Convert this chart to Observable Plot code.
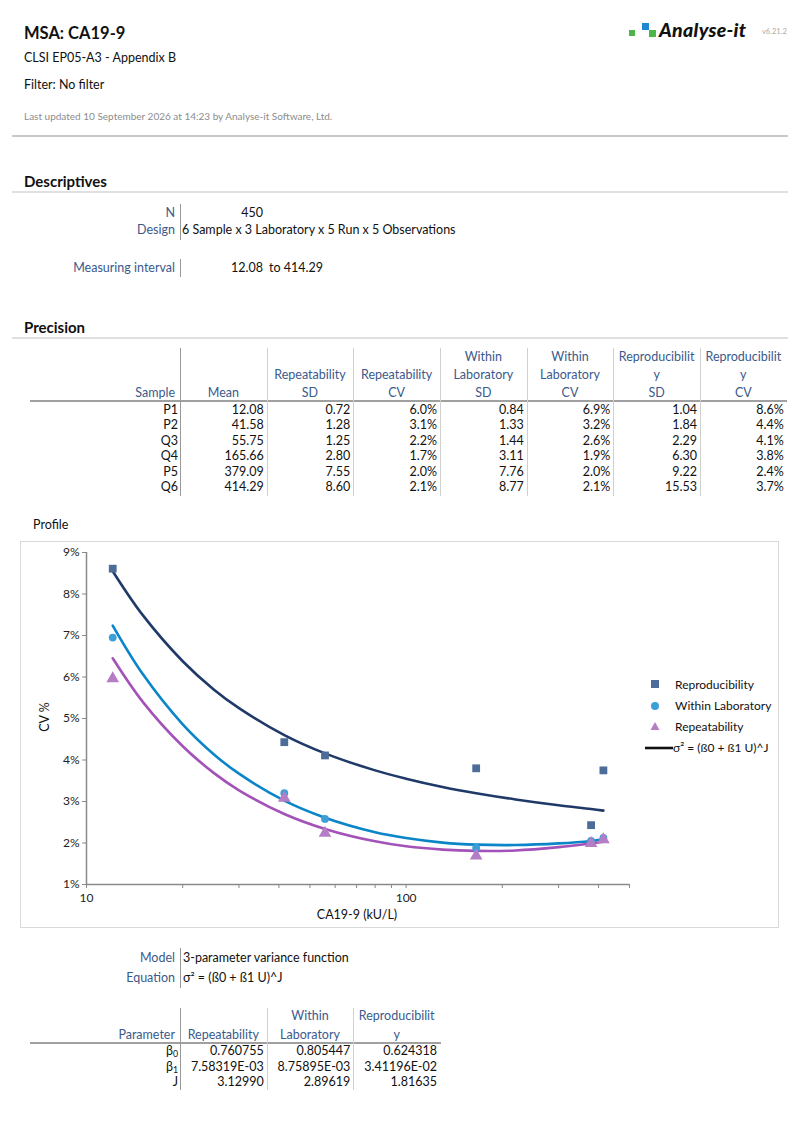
<!DOCTYPE html>
<html>
<head>
<meta charset="utf-8">
<script src="https://cdn.jsdelivr.net/npm/d3@7"></script>
<script src="https://cdn.jsdelivr.net/npm/@observablehq/plot@0.6"></script>
<style>
  html, body { margin: 0; padding: 0; background: #fff; }
  body { width: 800px; height: 1132px; position: relative; font-family: Lato, "Open Sans", sans-serif; color: #111; overflow: hidden; }
  .t { position: absolute; white-space: nowrap; height: 16px; line-height: 16px; }
  .hl { position: absolute; height: 0; }
  .vl { position: absolute; width: 0; border-left: 1px solid #bfbfbf; }
  sub { font-size: 0.7em; vertical-align: -0.25em; line-height: 0; }
  #chart { position: absolute; left: 20px; top: 541px; width: 757px; height: 385px; border: 1px solid #d9d9d9; }
  #chart svg { position: absolute; left: 0; top: 0; }
</style>
</head>
<body>
<div id="chart"></div>
<script>
// ---------------- data ----------------
const samples = ["P1", "P2", "Q3", "Q4", "P5", "Q6"];
const means = [12.08, 41.58, 55.75, 165.66, 379.09, 414.29];
const repeatSD = [0.72, 1.28, 1.25, 2.80, 7.55, 8.60];
const repeatCV = [6.0, 3.1, 2.2, 1.7, 2.0, 2.1];
const withinSD = [0.84, 1.33, 1.44, 3.11, 7.76, 8.77];
const withinCV = [6.9, 3.2, 2.6, 1.9, 2.0, 2.1];
const reproSD = [1.04, 1.84, 2.29, 6.30, 9.22, 15.53];
const reproCV = [8.6, 4.4, 4.1, 3.8, 2.4, 3.7];

// CV points as plotted (%)
const reproPts = [8.61, 4.43, 4.11, 3.80, 2.43, 3.75];
const withinPts = [6.95, 3.20, 2.58, 1.88, 2.05, 2.12];
const repeatPts = [5.96, 3.08, 2.24, 1.69, 1.99, 2.08];

// fitted profile curves (%)
const curveX = [12.08, 15, 20, 25, 30, 41.58, 55.75, 80, 100, 130, 165.66, 220, 300, 379.09, 414.29];
const reproCurve = [8.55, 7.49, 6.38, 5.70, 5.25, 4.60, 4.16, 3.75, 3.55, 3.35, 3.20, 3.05, 2.91, 2.82, 2.78];
const withinCurve = [7.24, 6.07, 4.86, 4.14, 3.67, 3.02, 2.61, 2.26, 2.12, 2.01, 1.96, 1.95, 1.99, 2.05, 2.09];
const repeatCurve = [6.45, 5.40, 4.33, 3.69, 3.27, 2.70, 2.34, 2.04, 1.92, 1.84, 1.81, 1.82, 1.90, 1.99, 2.03];

const xTicks = [10, 20, 30, 40, 50, 60, 70, 80, 90, 100, 200, 300, 400, 500];
const xTickLabels = [10, 100];
const yTicks = [1, 2, 3, 4, 5, 6, 7, 8, 9];

const paramNames = ["β<sub>0</sub>", "β<sub>1</sub>", "J"];
const paramRepeat = ["0.760755", "7.58319E-03", "3.12990"];
const paramWithin = ["0.805447", "8.75895E-03", "2.89619"];
const paramRepro = ["0.624318", "3.41196E-02", "1.81635"];

// ---------------- helpers ----------------
const BLUE = "#3a5a8c";
function txt(x, y, html, o = {}) {
  const d = document.createElement("div");
  d.className = "t";
  d.innerHTML = html;
  const size = o.size || 12.5;
  d.style.fontSize = size + "px";
  d.style.top = (y - 8) + "px";
  if (o.weight) d.style.fontWeight = o.weight;
  if (o.style) d.style.fontStyle = o.style;
  d.style.color = o.color || "#111";
  if (o.align === "right") { d.style.right = (800 - x) + "px"; d.style.textAlign = "right"; }
  else if (o.align === "center") { d.style.left = (x - 100) + "px"; d.style.width = "200px"; d.style.textAlign = "center"; }
  else d.style.left = x + "px";
  document.body.appendChild(d);
  return d;
}
function hline(x1, x2, y, color, w) {
  const d = document.createElement("div");
  d.className = "hl";
  d.style.left = x1 + "px"; d.style.width = (x2 - x1) + "px";
  d.style.top = y + "px"; d.style.borderTop = (w || 1) + "px solid " + color;
  document.body.appendChild(d);
}
function vline(x, y1, y2, color) {
  const d = document.createElement("div");
  d.className = "vl";
  d.style.left = x + "px"; d.style.top = y1 + "px"; d.style.height = (y2 - y1) + "px";
  if (color) d.style.borderLeftColor = color;
  document.body.appendChild(d);
}

// ---------------- header ----------------
txt(24, 33, "MSA: CA19-9", {size: 16.5, weight: 700});
txt(24, 58, "CLSI EP05-A3 - Appendix B", {size: 12.5});
txt(24, 85, "Filter: No filter", {size: 12.5});
txt(24, 116, "Last updated 10 September 2026 at 14:23 by Analyse-it Software, Ltd.", {size: 10, color: "#8c8c8c"});
hline(12, 788, 135, "#c8c8c8", 2);

// logo
const logo = document.createElement("div");
logo.style.cssText = "position:absolute;left:628px;top:22px;width:170px;height:24px;";
logo.innerHTML = '<div style="position:absolute;left:1px;top:8px;width:6px;height:6px;background:#4cb648"></div>' +
  '<div style="position:absolute;left:14px;top:1px;width:7px;height:7px;background:#1e88d0"></div>' +
  '<div style="position:absolute;left:21px;top:8px;width:7px;height:7px;background:#4cb648"></div>' +
  '<div style="position:absolute;left:31px;top:-4px;font-size:19.5px;font-weight:900;font-style:italic;color:#111;letter-spacing:0.3px;white-space:nowrap">Analyse-it</div>' +
  '<div style="position:absolute;left:134px;top:5px;font-size:7.5px;color:#aaa;white-space:nowrap">v6.21.2</div>';
document.body.appendChild(logo);

// ---------------- descriptives ----------------
txt(24, 181, "Descriptives", {size: 15, weight: 700});
hline(12, 788, 191, "#e0e0e0", 2);
txt(175, 213, "N", {align: "right", color: BLUE});
txt(263, 213, "450", {align: "right"});
txt(175, 230, "Design", {align: "right", color: BLUE});
txt(182, 230, "6 Sample x 3 Laboratory x 5 Run x 5 Observations");
vline(180, 204, 240, "#999");
txt(175, 268, "Measuring interval", {align: "right", color: BLUE});
txt(263, 268, "12.08", {align: "right"});
txt(269, 268, "to 414.29");
vline(180, 259, 277, "#999");

// ---------------- precision table ----------------
txt(24, 327, "Precision", {size: 15, weight: 700});
hline(12, 788, 337, "#e0e0e0", 2);
const colB = [30, 180, 266.7, 353.3, 440, 526.7, 613.3, 700, 786.7];
const heads = [
  ["", "", "Sample"], ["", "", "Mean"], ["", "Repeatability", "SD"], ["", "Repeatability", "CV"],
  ["Within", "Laboratory", "SD"], ["Within", "Laboratory", "CV"], ["Reproducibilit", "y", "SD"], ["Reproducibilit", "y", "CV"]
];
const headY = [357, 375, 393];
heads.forEach((h, c) => {
  h.forEach((s, r) => {
    if (!s) return;
    if (c === 0) txt(colB[1] - 5, headY[r], s, {align: "right", color: BLUE});
    else txt((colB[c] + colB[c + 1]) / 2, headY[r], s, {align: "center", color: BLUE});
  });
});
hline(30, 787, 400, "#a0a0a0", 2);
for (let c = 1; c < 8; c++) vline(colB[c], 348, 496, c === 1 ? "#999" : "#d0d0d0");
const rowY = [410, 425.4, 440.8, 456.2, 471.6, 487];
const cols = [
  means.map(v => v.toFixed(2)), repeatSD.map(v => v.toFixed(2)), repeatCV.map(v => v.toFixed(1) + "%"),
  withinSD.map(v => v.toFixed(2)), withinCV.map(v => v.toFixed(1) + "%"),
  reproSD.map(v => v.toFixed(2)), reproCV.map(v => v.toFixed(1) + "%")
];
samples.forEach((s, i) => {
  txt(colB[1] - 2, rowY[i], s, {align: "right"});
  cols.forEach((col, c) => txt(colB[c + 2] - 3, rowY[i], col[i], {align: "right"}));
});

// ---------------- profile chart ----------------
txt(33, 525, "Profile", {size: 12.5});

const C_REPRO_PT = "#4d6d99", C_REPRO_LN = "#1f3a68";
const C_WITHIN_PT = "#3d9fd8", C_WITHIN_LN = "#0a85c8";
const C_REPEAT_PT = "#b57dc6", C_REPEAT_LN = "#a352b8";

const curve = (ys) => curveX.map((x, i) => ({x, y: ys[i]}));
const pts = (ys) => means.map((x, i) => ({x, y: ys[i]}));

const chart = Plot.plot({
  width: 757, height: 385,
  marginLeft: 65, marginRight: 149, marginTop: 10, marginBottom: 43,
  x: {type: "log", domain: [10, 500]},
  y: {domain: [1, 9]},
  style: {fontFamily: "Lato, sans-serif", fontSize: "12px", color: "#333", background: "transparent", overflow: "visible"},
  marks: [
    Plot.axisX({ticks: xTicks, tickFormat: d => xTickLabels.includes(d) ? String(d) : "", tickSize: 4, tickPadding: 5, label: null, stroke: "#8a8a8a", fill: "#222"}),
    Plot.axisY({ticks: yTicks, tickFormat: d => d + "%", tickSize: 4, tickPadding: 3, label: null, stroke: "#8a8a8a", fill: "#222"}),
    Plot.ruleY([1], {stroke: "#8a8a8a", strokeWidth: 1.5}),
    Plot.ruleX([10], {stroke: "#8a8a8a", strokeWidth: 1.5}),
    Plot.line(curve(reproCurve), {x: "x", y: "y", stroke: C_REPRO_LN, strokeWidth: 2.6, curve: "catmull-rom"}),
    Plot.line(curve(withinCurve), {x: "x", y: "y", stroke: C_WITHIN_LN, strokeWidth: 2.6, curve: "catmull-rom"}),
    Plot.line(curve(repeatCurve), {x: "x", y: "y", stroke: C_REPEAT_LN, strokeWidth: 2.6, curve: "catmull-rom"}),
    Plot.dot(pts(reproPts), {x: "x", y: "y", symbol: "square", r: 4.4, fill: C_REPRO_PT, stroke: "none"}),
    Plot.dot(pts(withinPts), {x: "x", y: "y", symbol: "circle", r: 3.9, fill: C_WITHIN_PT, stroke: "none"}),
    Plot.dot(pts(repeatPts), {x: "x", y: "y", symbol: "triangle", r: 4.7, fill: C_REPEAT_PT, stroke: "none"})
  ]
});
document.getElementById("chart").appendChild(chart);

// axis titles
txt(357, 915, "CA19-9 (kU/L)", {align: "center", size: 12.5});
const yl = txt(45, 717, "CV %", {align: "center", size: 12.5});
yl.style.transform = "rotate(-90deg)";

// legend
const leg = document.createElement("div");
leg.style.cssText = "position:absolute;left:640px;top:674px;width:150px;height:90px;";
leg.innerHTML = `<svg width="40" height="90" style="position:absolute;left:0;top:0">
  <rect x="11" y="6" width="8" height="8" fill="${C_REPRO_PT}"/>
  <circle cx="15" cy="32" r="4" fill="${C_WITHIN_PT}"/>
  <polygon points="15,48 19.5,56 10.5,56" fill="${C_REPEAT_PT}"/>
  <line x1="5" x2="33" y1="74" y2="74" stroke="#111" stroke-width="2.6"/>
</svg>`;
document.body.appendChild(leg);
txt(675, 685, "Reproducibility", {size: 12});
txt(675, 706, "Within Laboratory", {size: 12});
txt(675, 727, "Repeatability", {size: 12});
txt(673, 748, "σ² = (ß0 + ß1 U)^J", {size: 12});

// ---------------- model ----------------
txt(175, 958, "Model", {align: "right", color: BLUE});
txt(183, 958, "3-parameter variance function");
txt(175, 978, "Equation", {align: "right", color: BLUE});
txt(183, 978, "σ² = (ß0 + ß1 U)^J");
vline(180, 948, 988, "#999");

// parameter table
const pB = [30, 180, 266.7, 353.3, 440];
txt(310, 1016, "Within", {align: "center", color: BLUE});
txt(396.7, 1016, "Reproducibilit", {align: "center", color: BLUE});
txt(175, 1035, "Parameter", {align: "right", color: BLUE});
txt(223.3, 1035, "Repeatability", {align: "center", color: BLUE});
txt(310, 1035, "Laboratory", {align: "center", color: BLUE});
txt(396.7, 1035, "y", {align: "center", color: BLUE});
hline(30, 441, 1042, "#a0a0a0", 2);
for (let c = 1; c < 4; c++) vline(pB[c], 1008, 1090, c === 1 ? "#999" : "#d0d0d0");
const pRowY = [1051, 1066.5, 1082];
paramNames.forEach((n, i) => {
  txt(178, pRowY[i], n, {align: "right"});
  txt(pB[2] - 3, pRowY[i], paramRepeat[i], {align: "right"});
  txt(pB[3] - 3, pRowY[i], paramWithin[i], {align: "right"});
  txt(pB[4] - 3, pRowY[i], paramRepro[i], {align: "right"});
});
</script>
</body>
</html>
